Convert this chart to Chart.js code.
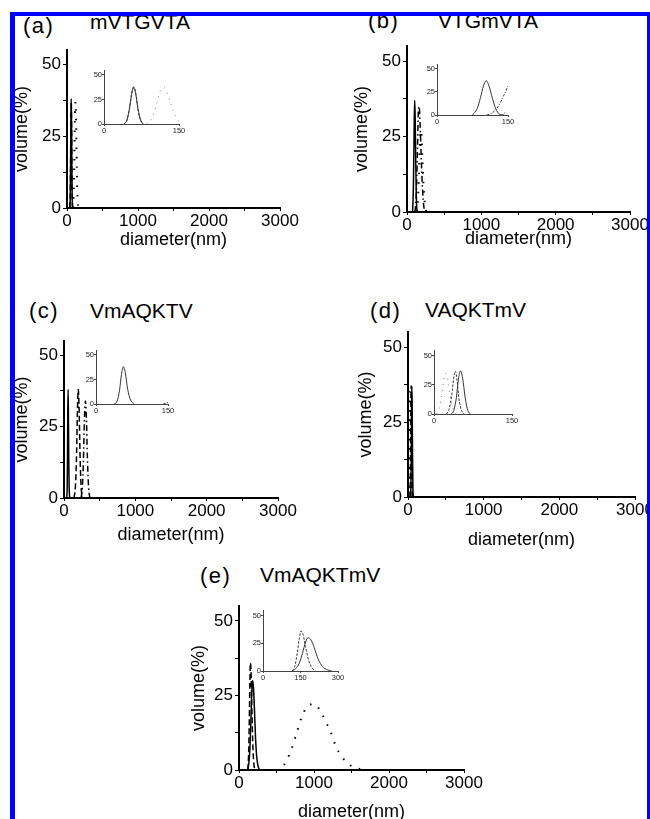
<!DOCTYPE html>
<html>
<head>
<meta charset="utf-8">
<script src="https://cdn.jsdelivr.net/npm/chart.js@4.4.1/dist/chart.umd.min.js"></script>
<style>
  body { margin: 0; background: #fff; }
  #page { position: relative; width: 650px; height: 819px; overflow: hidden; background: #fff; font-family: "Liberation Sans", Arial, sans-serif; }
  canvas { position: absolute; }
  .lbl { position: absolute; font-size: 21px; line-height: 21px; white-space: nowrap; color: #000; }
  .tag { font-size: 22px; letter-spacing: 1.5px; }
  #frame { position: absolute; left: 10px; top: 12px; width: 641px; height: 900px; box-sizing: border-box; border: 4px solid #0000ff; border-left-width: 5px; z-index: 10; }
</style>
</head>
<body>
<div id="page">
  <div id="frame"></div>

  <div class="lbl tag" style="left:23px; top:15px;">(a)</div>
  <div class="lbl" style="left:90px; top:11px;">mVTGVTA</div>
  <div class="lbl tag" style="left:368px; top:10px;">(b)</div>
  <div class="lbl" style="left:438px; top:10px;">VTGmVTA</div>
  <div class="lbl tag" style="left:29px; top:300px;">(c)</div>
  <div class="lbl" style="left:90px; top:300px;">VmAQKTV</div>
  <div class="lbl tag" style="left:370px; top:300px;">(d)</div>
  <div class="lbl" style="left:425px; top:299px;">VAQKTmV</div>
  <div class="lbl tag" style="left:200px; top:565px;">(e)</div>
  <div class="lbl" style="left:260px; top:564px;">VmAQKTmV</div>

  <canvas id="mainA"></canvas>
  <canvas id="mainB"></canvas>
  <canvas id="mainC"></canvas>
  <canvas id="mainD"></canvas>
  <canvas id="mainE"></canvas>
  <canvas id="insetA"></canvas>
  <canvas id="insetB"></canvas>
  <canvas id="insetC"></canvas>
  <canvas id="insetD"></canvas>
  <canvas id="insetE"></canvas>
</div>

<script>
Chart.defaults.font.family = '"Liberation Sans", Arial, sans-serif';
Chart.defaults.color = "#000";

// (a) mVTGVTA
const aSolidX = [40, 45, 50, 55, 59, 63, 68, 73, 78];
const aSolidY = [0, 3, 13, 30, 38, 32, 15, 4, 0];
const aDashX = [40, 46, 51, 56, 60, 64, 69, 74, 79];
const aDashY = [0, 4, 16, 32, 37, 30, 12, 3, 0];
const aDotX = [85, 94, 104, 112, 120, 128, 138, 148, 160];
const aDotY = [0, 4, 18, 33, 37, 30, 14, 4, 0];

// (b) VTGmVTA
const bSolidX = [75, 85, 92, 98, 104, 110, 117, 124, 132, 142];
const bSolidY = [0, 7, 19, 31, 37, 31, 18, 7, 1, 0];
const bDashDotX = [105, 116, 129, 142, 154, 164, 176, 190, 204, 218, 235];
const bDashDotY = [0, 2, 9, 22, 34, 35, 29, 19, 10, 4, 0];
const bDotX = [130, 145, 158, 170, 182, 194, 207, 222, 240, 260];
const bDotY = [0, 3, 10, 20, 27, 26, 18, 9, 3, 0];

// (c) VmAQKTV
const cSolidX = [38, 44, 49, 53, 57, 61, 66, 72, 80];
const cSolidY = [0, 3, 14, 30, 38, 32, 15, 4, 0];
const cDashX = [140, 160, 175, 188, 200, 212, 225, 240, 258];
const cDashY = [0, 4, 14, 30, 38, 31, 15, 4, 0];
const cDashDotX = [240, 258, 272, 286, 300, 314, 328, 344, 362];
const cDashDotY = [0, 4, 13, 27, 34, 28, 14, 4, 0];

// (d) VAQKTmV
const dSolidX = [33, 38, 43, 47, 51, 55, 60, 65, 70];
const dSolidY = [0, 3, 14, 30, 37, 31, 14, 3, 0];
const dDashX = [24, 29, 34, 38, 41, 44, 48, 53, 58];
const dDashY = [0, 4, 16, 31, 37, 30, 13, 3, 0];
const dDotX = [5, 10, 15, 19, 23, 27, 31, 36, 42];
const dDotY = [0, 5, 17, 30, 35, 29, 16, 5, 0];

// (e) VmAQKTmV
const eSolidX = [115, 130, 145, 158, 170, 180, 192, 205, 220, 238, 258, 275];
const eSolidY = [0, 2, 7, 16, 26, 30, 28, 21, 11, 4, 1, 0];
const eDashX = [118, 128, 137, 145, 152, 160, 170, 182, 195, 210];
const eDashY = [0, 5, 16, 29, 36, 33, 22, 10, 3, 0];
const eDotX = [500, 560, 640, 700, 770, 840, 900, 960, 1010, 1090, 1160, 1220, 1290, 1370, 1470, 1600, 1720];
const eDotY = [0, 0.5, 3.5, 7, 12.5, 18, 21, 22, 22, 19.5, 16, 13, 8, 4.5, 1.8, 0.4, 0];

// axis ticks
const mainXTicks = [0, 1000, 2000, 3000];
const volumeTicks = [0, 25, 50];

const mainDash = { solid: [], dash: [6, 3], dot: [1.5, 8], dashDot: [6, 3, 1.5, 3] };
const insetDash = { solid: [], dash: [2.5, 1.5], dot: [1, 5], dashDot: [2.5, 1.5, 1, 1.5] };

function pts(xs, ys) {
  return xs.map((x, i) => ({ x: x, y: ys[i] }));
}

function makeDatasets(series, inset) {
  return series.map(s => ({
    data: pts(s.x, s.y),
    showLine: true,
    borderColor: inset ? (s.style === "dot" ? "#777" : "#333") : "#000",
    borderWidth: inset ? 1 : (s.style === "dot" ? 2 : 1.5),
    borderDash: (inset ? insetDash : mainDash)[s.style],
    pointRadius: 0,
    cubicInterpolationMode: "monotone",
    fill: false
  }));
}

function place(id, left, top, w, h) {
  const c = document.getElementById(id);
  c.width = w;
  c.height = h;
  c.style.left = left + "px";
  c.style.top = top + "px";
  return c;
}

function mainPanel(id, box, series) {
  const padTop = 14, padRight = 24, yW = box.yw, xH = box.xh;
  const c = place(id, box.l - yW, box.t - padTop, box.r - box.l + yW + padRight, box.b - box.t + padTop + xH);
  new Chart(c, {
    type: "scatter",
    data: { datasets: makeDatasets(series, false) },
    options: {
      responsive: false,
      animation: false,
      layout: { padding: { top: padTop, right: padRight, left: 0, bottom: 0 } },
      plugins: { legend: { display: false }, tooltip: { enabled: false } },
      scales: {
        x: {
          type: "linear",
          min: 0,
          max: 3000,
          border: { display: true, color: "#000", width: 2 },
          grid: { drawOnChartArea: false, color: "#000", tickLength: 3 },
          ticks: {
            stepSize: 500,
            autoSkip: false,
            maxRotation: 0,
            padding: 0,
            font: { size: 17 },
            callback: v => (mainXTicks.includes(v) ? v : "")
          },
          title: { display: true, text: "diameter(nm)", font: { size: 18 }, padding: { top: 0, bottom: 4 } },
          afterFit: s => { s.height = xH; }
        },
        y: {
          min: 0,
          max: 55,
          border: { display: true, color: "#000", width: 2 },
          grid: { drawOnChartArea: false, color: "#000", tickLength: 4 },
          ticks: {
            stepSize: 12.5,
            includeBounds: false,
            autoSkip: false,
            padding: 2,
            font: { size: 17 },
            callback: v => (volumeTicks.includes(v) ? v : "")
          },
          title: { display: true, text: "volume(%)", font: { size: 18 }, padding: { top: 4, bottom: 0 } },
          afterFit: s => { s.width = yW; }
        }
      }
    }
  });
}

function insetPanel(id, box, xMax, xTicks, series) {
  const padTop = 6, padRight = 9, yW = 14, xH = 11;
  const c = place(id, box.l - yW, box.t - padTop, box.r - box.l + yW + padRight, box.b - box.t + padTop + xH);
  new Chart(c, {
    type: "scatter",
    data: { datasets: makeDatasets(series, true) },
    options: {
      responsive: false,
      animation: false,
      layout: { padding: { top: padTop, right: padRight, left: 0, bottom: 0 } },
      plugins: { legend: { display: false }, tooltip: { enabled: false } },
      scales: {
        x: {
          type: "linear",
          min: 0,
          max: xMax,
          border: { display: true, color: "#444", width: 1 },
          grid: { drawOnChartArea: false, color: "#444", tickLength: 2 },
          ticks: {
            stepSize: xMax / (xTicks.length - 1),
            autoSkip: false,
            maxRotation: 0,
            padding: 0,
            color: "#222",
            font: { size: 7.5 },
            callback: v => (xTicks.includes(v) ? v : "")
          },
          afterFit: s => { s.height = xH; }
        },
        y: {
          min: 0,
          max: 55,
          border: { display: true, color: "#444", width: 1 },
          grid: { drawOnChartArea: false, color: "#444", tickLength: 2 },
          ticks: {
            stepSize: 25,
            includeBounds: false,
            autoSkip: false,
            padding: 0,
            color: "#222",
            font: { size: 7.5 },
            callback: v => (volumeTicks.includes(v) ? v : "")
          },
          afterFit: s => { s.width = yW; }
        }
      }
    }
  });
}

const seriesA = [
  { x: aSolidX, y: aSolidY, style: "solid" },
  { x: aDashX, y: aDashY, style: "dash" },
  { x: aDotX, y: aDotY, style: "dot" }
];
const seriesB = [
  { x: bSolidX, y: bSolidY, style: "solid" },
  { x: bDashDotX, y: bDashDotY, style: "dashDot" },
  { x: bDotX, y: bDotY, style: "dot" }
];
const seriesC = [
  { x: cSolidX, y: cSolidY, style: "solid" },
  { x: cDashX, y: cDashY, style: "dash" },
  { x: cDashDotX, y: cDashDotY, style: "dashDot" }
];
const seriesD = [
  { x: dSolidX, y: dSolidY, style: "solid" },
  { x: dDashX, y: dDashY, style: "dash" },
  { x: dDotX, y: dDotY, style: "dot" }
];
const seriesE = [
  { x: eSolidX, y: eSolidY, style: "solid" },
  { x: eDashX, y: eDashY, style: "dash" },
  { x: eDotX, y: eDotY, style: "dot" }
];

mainPanel("mainA", { l: 67, r: 280, t: 50, b: 208, yw: 60, xh: 47 }, seriesA);
mainPanel("mainB", { l: 407, r: 630, t: 46, b: 212, yw: 60, xh: 42 }, seriesB);
mainPanel("mainC", { l: 64, r: 278, t: 341, b: 498, yw: 57, xh: 52 }, seriesC);
mainPanel("mainD", { l: 408, r: 635, t: 332, b: 497, yw: 57, xh: 58 }, seriesD);
mainPanel("mainE", { l: 239, r: 464, t: 606, b: 770, yw: 55, xh: 57 }, seriesE);

insetPanel("insetA", { l: 104, r: 179, t: 70, b: 124 }, 150, [0, 150], seriesA);
insetPanel("insetB", { l: 437, r: 508, t: 64, b: 115 }, 150, [0, 150], seriesB);
insetPanel("insetC", { l: 96, r: 168, t: 350, b: 404 }, 150, [0, 150], seriesC);
insetPanel("insetD", { l: 434, r: 512, t: 350, b: 414 }, 150, [0, 150], seriesD);
insetPanel("insetE", { l: 263, r: 338, t: 610, b: 671 }, 300, [0, 150, 300], seriesE);
</script>
</body>
</html>
